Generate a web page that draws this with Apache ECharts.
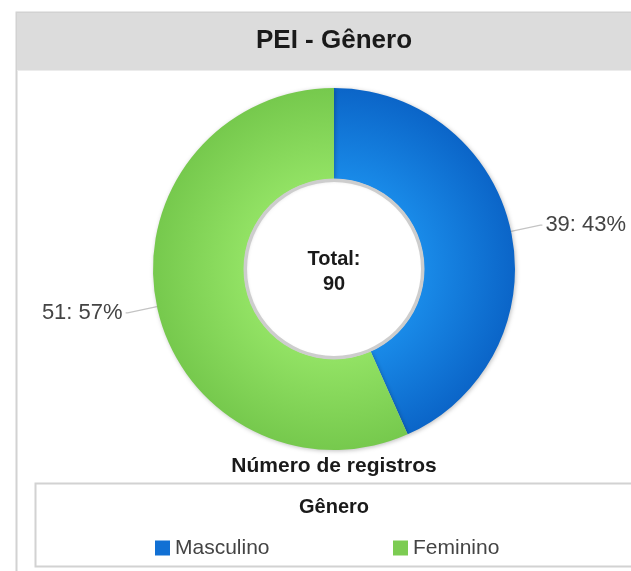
<!DOCTYPE html>
<html>
<head>
<meta charset="utf-8">
<script src="https://cdn.jsdelivr.net/npm/echarts@6/dist/echarts.min.js"></script>
<style>
html,body{margin:0;padding:0;background:#fff;}
#c{width:631px;height:571px;}
</style>
</head>
<body>
<div id="c"></div>
<script>
const chartTitle = 'PEI - Gênero';
const categories = ['Masculino', 'Feminino'];
const values = [39, 51];
const legendTitle = 'Gênero';
const measureName = 'Número de registros';

const total = values.reduce((a, b) => a + b, 0);
const FONT = '"Liberation Sans", Arial, Helvetica, sans-serif';
const CX = 334, CY = 269, R = 181, R0 = 90;

function radial(inner, outer) {
  return {
    type: 'radial', x: CX, y: CY, r: R, global: true,
    colorStops: [
      { offset: 0, color: inner },
      { offset: 0.5, color: inner },
      { offset: 1, color: outer }
    ]
  };
}
const sliceColors = [radial('#198ae8', '#0b65c8'), radial('#92e264', '#76c94d')];
const legendColors = ['#1170d4', '#7ccc52'];

const chart = echarts.init(document.getElementById('c'), null, { renderer: 'canvas' });
chart.setOption({
  backgroundColor: '#ffffff',
  animation: false,
  color: legendColors,
  textStyle: { fontFamily: FONT },
  legend: categories.map((name, i) => ({
    data: [{ name: name, itemStyle: { color: legendColors[i] } }],
    left: i === 0 ? 155 : 393,
    top: 537,
    orient: 'horizontal',
    icon: 'rect',
    itemWidth: 15,
    itemHeight: 15,
    itemGap: 0,
    selectedMode: false,
    padding: 0,
    textStyle: { fontFamily: FONT, fontSize: 21, color: '#444', lineHeight: 22 }
  })),
  graphic: [
    { type: 'rect', z: -10, silent: true, shape: { x: 16.5, y: 12.5, width: 620, height: 580 }, style: { fill: '#fff', stroke: '#d2d2d2', lineWidth: 2 } },
    { type: 'rect', z: -9, silent: true, shape: { x: 17, y: 13, width: 620, height: 57 }, style: { fill: '#dcdcdc', stroke: null } },
    { type: 'line', z: -8, silent: true, shape: { x1: 17, y1: 70.5, x2: 631, y2: 70.5 }, style: { stroke: '#ececec', lineWidth: 1 } },
    { type: 'text', silent: true, x: 334, y: 41, style: { text: chartTitle, font: 'bold 26px ' + FONT, fill: '#1a1a1a', align: 'center', verticalAlign: 'middle' } },
    { type: 'ring', silent: true, z: 5, shape: { cx: CX, cy: CY, r: R0 + 0.5, r0: R0 - 3 }, style: { fill: '#cdcdcd' } },
    { type: 'text', silent: true, x: CX, y: 259, style: { text: 'Total:', font: 'bold 20px ' + FONT, fill: '#1a1a1a', align: 'center', verticalAlign: 'middle' } },
    { type: 'text', silent: true, x: CX, y: 284, style: { text: String(total), font: 'bold 20px ' + FONT, fill: '#1a1a1a', align: 'center', verticalAlign: 'middle' } },
    { type: 'text', silent: true, x: CX, y: 466, style: { text: measureName, font: 'bold 21px ' + FONT, fill: '#1a1a1a', align: 'center', verticalAlign: 'middle' } },
    { type: 'rect', z: -5, silent: true, shape: { x: 35.5, y: 483.5, width: 620, height: 83 }, style: { fill: '#fff', stroke: '#d2d2d2', lineWidth: 2 } },
    { type: 'text', silent: true, x: CX, y: 507, style: { text: legendTitle, font: 'bold 20px ' + FONT, fill: '#1a1a1a', align: 'center', verticalAlign: 'middle' } }
  ],
  series: [{
    type: 'pie',
    center: [CX, CY],
    radius: [R0, R],
    startAngle: 90,
    clockwise: true,
    percentPrecision: 0,
    avoidLabelOverlap: false,
    silent: true,
    emphasis: { disabled: true },
    itemStyle: { shadowColor: 'rgba(0,0,0,0.25)', shadowBlur: 4, shadowOffsetX: 1, shadowOffsetY: 1 },
    label: {
      show: true,
      position: 'outside',
      formatter: '{c}: {d}%',
      fontFamily: FONT,
      fontSize: 22,
      color: '#444',
      distanceToLabelLine: 3
    },
    labelLine: { show: true, length: 30, length2: 2, smooth: false, lineStyle: { color: '#c4c4c4', width: 1.2 } },
    data: categories.map((name, i) => ({ name: name, value: values[i], itemStyle: { color: sliceColors[i] } }))
  }]
});
</script>
</body>
</html>
